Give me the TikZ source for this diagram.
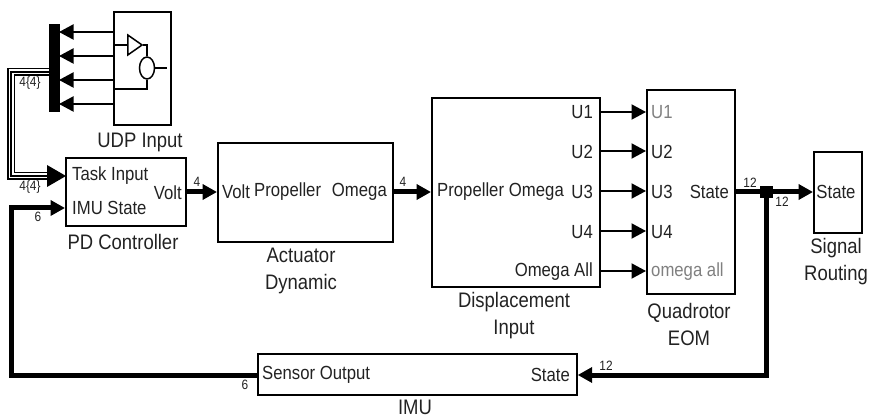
\documentclass[tikz,border=0pt]{standalone}
\usepackage{fontspec}
\setmainfont{Liberation Sans}
\newfontfamily\cond[FakeStretch=0.88]{Liberation Sans}
\usetikzlibrary{arrows.meta,shapes.geometric}
\definecolor{txt}{HTML}{222222}
\tikzset{
  blk/.style={draw=black,line width=1.7pt,fill=white,inner sep=0pt,anchor=north west},
  lab/.style={font=\cond\fontsize{21}{27}\selectfont,text=txt,inner sep=0pt,align=center},
  port/.style={font=\cond\fontsize{19}{22}\selectfont,text=txt,inner sep=0pt},
  gport/.style={port,text=black!50},
  num/.style={font=\cond\fontsize{13.5}{15}\selectfont,text=txt,inner sep=0pt},
  sig/.style={line width=2pt,-{Triangle[length=14.5pt,width=15pt]}},
  bus/.style={line width=5pt,-{Triangle[length=14.5pt,width=15pt]}}
}
\begin{document}
\begin{tikzpicture}[x=1pt,y=-1pt]
\useasboundingbox (0,0) rectangle (869,419);
% blocks
\node[blk,minimum width=57pt,minimum height=113pt] (udp) at (113,11) {};
\node[draw=black,fill=black,inner sep=0pt,minimum width=10pt,minimum height=87pt,anchor=north west] (mux) at (49,24) {};
\node[blk,minimum width=120pt,minimum height=68pt] (pd) at (65,157) {};
\node[blk,minimum width=175pt,minimum height=99pt] (act) at (217,142) {};
\node[blk,minimum width=168pt,minimum height=189pt] (disp) at (431,97) {};
\node[blk,minimum width=88pt,minimum height=204pt] (eom) at (646,89) {};
\node[blk,minimum width=48pt,minimum height=81pt] (sr) at (813,151) {};
\node[blk,minimum width=319pt,minimum height=41pt] (imu) at (257,353) {};
% UDP connectors
\foreach \y/\n in {32/a,56/b,80/c,104/d}{
  \coordinate (u\n) at (113,\y);
  \coordinate (m\n) at (59,\y);
  \draw[sig] (u\n) -- (m\n);
}
% UDP internal icon
\node[draw=black,line width=1.5pt,isosceles triangle,isosceles triangle apex angle=70,minimum width=20pt,minimum height=14pt,inner sep=0pt] (tri) at (133,45) {};
\node[draw=black,line width=1.5pt,ellipse,minimum width=15pt,minimum height=22pt,inner sep=0pt] (ell) at (147,68) {};
\coordinate (i1) at (113,45);
\coordinate (i2) at (113,89);
\coordinate (i3) at (167,68);
\draw[line width=1.5pt] (i1) -- (tri.west);
\draw[line width=1.5pt] (tri.east) -| (ell.north);
\draw[line width=1.5pt] (i2) -| (ell.south);
\draw[line width=1.5pt] (ell.east) -- (i3);
% bus
\coordinate (b1) at (49,72);
\coordinate (b2) at (11,72);
\coordinate (b3) at (11,176);
\coordinate (b4) at (50,176);
\draw[black,line width=7.5pt] (b1) -- (b2) -- (b3) -- (b4);
\draw[white,line width=5pt] (b1) -- (b2) -- (b3) -- (b4);
\draw[black,line width=2pt] (b1) -- (b2) -- (b3) -- (b4);
\path[fill=black] (47,165) -- (66,176) -- (47,187) -- cycle;
% main signals
\draw[bus] (pd.east |- 0,192) -- (act.west |- 0,192);
\draw[bus] (act.east |- 0,192) -- (disp.west |- 0,192);
\foreach \y in {112,151,191,231,271}{
  \draw[sig] (disp.east |- 0,\y) -- (eom.west |- 0,\y);
}
\node[fill=black,minimum width=13pt,minimum height=12pt,inner sep=0pt] (jn) at (766,192) {};
\draw[bus] (eom.east |- 0,192) -- (sr.west |- 0,192);
\coordinate (c1) at (766,375);
\draw[bus] (jn.center) -- (c1) -- (imu.east |- c1);
\coordinate (c2) at (11,375);
\coordinate (c3) at (11,208);
\draw[bus] (imu.west |- c1) -- (c2) -- (c3) -- (pd.west |- c3);
% block labels
\node[lab] (l1) at (140,142) {UDP Input};
\node[lab] (l2) at (123,242) {PD Controller};
\node[lab] (l3) at (301,271) {Actuator\\Dynamic};
\node[lab] (l4) at (514,316) {Displacement\\Input};
\node[lab] (l5) at (689,324) {Quadrotor\\EOM};
\node[lab] (l6) at (836,262) {Signal\\Routing};
\node[lab] (l7) at (415,407) {IMU};
% port labels
\node[port,anchor=west] (p1) at (72,176) {Task Input};
\node[port,anchor=west] (p2) at (72,208) {IMU State};
\node[port,anchor=east] (p3) at (182,193) {Volt};
\node[port,anchor=west] (p4) at (222,192) {Volt};
\node[port,anchor=west] (p5) at (254,192) {Propeller};
\node[port,anchor=east] (p6) at (387,192) {Omega};
\node[port,anchor=west] (p7) at (437,192) {Propeller};
\node[port,anchor=east] (p8) at (564,192) {Omega};
\node[port,anchor=east] (p9) at (593,112) {U1};
\node[port,anchor=east] (p10) at (593,152) {U2};
\node[port,anchor=east] (p11) at (593,192) {U3};
\node[port,anchor=east] (p12) at (593,232) {U4};
\node[port,anchor=east] (p13) at (593,272) {Omega All};
\node[gport,anchor=west] (p14) at (651,112) {U1};
\node[port,anchor=west] (p15) at (651,152) {U2};
\node[port,anchor=west] (p16) at (651,192) {U3};
\node[port,anchor=west] (p17) at (651,232) {U4};
\node[gport,anchor=west] (p18) at (651,272) {omega all};
\node[port,anchor=east] (p19) at (729,192) {State};
\node[port,anchor=center] (p20) at (836,192) {State};
\node[port,anchor=west] (p21) at (262,375) {Sensor Output};
\node[port,anchor=east] (p22) at (570,375) {State};
% signal dimension labels
\node[num] (n1) at (30,83) {4\{4\}};
\node[num] (n2) at (30,187) {4\{4\}};
\node[num] (n3) at (38,217) {6};
\node[num] (n4) at (197,182) {4};
\node[num] (n5) at (403,182) {4};
\node[num] (n6) at (750,183) {12};
\node[num] (n7) at (782,202) {12};
\node[num] (n8) at (606,366) {12};
\node[num] (n9) at (245,385) {6};
\end{tikzpicture}
\end{document}
